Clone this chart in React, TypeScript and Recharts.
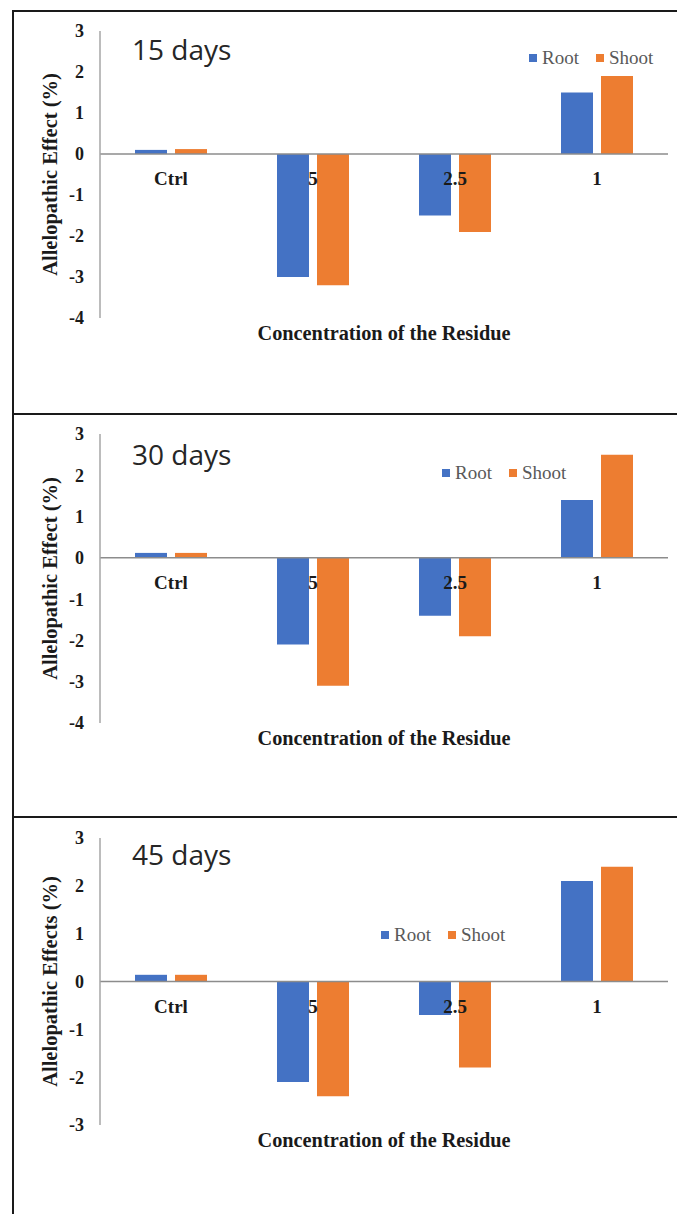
import { Bar, BarChart, ReferenceLine, XAxis, YAxis } from "recharts";

const categories = ["Ctrl", "5", "2.5", "1"];

const root15 = [0.1, -3.0, -1.5, 1.5];
const shoot15 = [0.12, -3.2, -1.9, 1.9];
const root30 = [0.12, -2.1, -1.4, 1.4];
const shoot30 = [0.12, -3.1, -1.9, 2.5];
const root45 = [0.14, -2.1, -0.7, 2.1];
const shoot45 = [0.14, -2.4, -1.8, 2.4];

const ticksLong = [-4, -3, -2, -1, 0, 1, 2, 3];
const ticksShort = [-3, -2, -1, 0, 1, 2, 3];

const series = [
  { key: "Root", color: "#4472C4" },
  { key: "Shoot", color: "#ED7D31" },
];
const SERIF = "'Liberation Serif', 'Times New Roman', serif";

function toRows(root: number[], shoot: number[]) {
  return categories.map((category, i) => ({ category, Root: root[i], Shoot: shoot[i] }));
}

// layout of each panel (page coordinates for top, the rest relative to the panel)
const panels = [
  {
    title: "15 days",
    yLabel: "Allelopathic Effect (%)",
    rows: toRows(root15, shoot15),
    ticks: ticksLong,
    top: 10,
    margin: { top: 21, bottom: 62 },
    titleTop: 25,
    legend: { left: 529, top: 38 },
  },
  {
    title: "30 days",
    yLabel: "Allelopathic Effect (%)",
    rows: toRows(root30, shoot30),
    ticks: ticksLong,
    top: 413,
    margin: { top: 21, bottom: 60 },
    titleTop: 27,
    legend: { left: 442, top: 50 },
  },
  {
    title: "45 days",
    yLabel: "Allelopathic Effects (%)",
    rows: toRows(root45, shoot45),
    ticks: ticksShort,
    top: 816,
    margin: { top: 22, bottom: 61 },
    titleTop: 24,
    legend: { left: 381, top: 109 },
  },
];

function LegendBox({ left, top }: { left: number; top: number }) {
  return (
    <div
      style={{
        position: "absolute",
        left,
        top,
        height: 20,
        display: "flex",
        alignItems: "center",
        fontFamily: SERIF,
        fontSize: 19,
        color: "#595959",
        whiteSpace: "nowrap",
      }}
    >
      {series.map((s, i) => (
        <div key={s.key} style={{ display: "flex", alignItems: "center", marginLeft: i ? 17 : 0 }}>
          <span style={{ width: 8, height: 8, background: s.color, marginRight: 5, display: "inline-block" }} />
          <span>{s.key}</span>
        </div>
      ))}
    </div>
  );
}

// category names sit just under the zero line
function CategoryLabels(props: any) {
  const vb = props.viewBox;
  if (!vb) return null;
  const step = vb.width / categories.length;
  return (
    <g>
      {categories.map((c, i) => (
        <text
          key={c}
          x={vb.x + step * (i + 0.5)}
          y={vb.y + 31}
          textAnchor="middle"
          fontFamily={SERIF}
          fontWeight="bold"
          fontSize={19}
          fill="#1a1a1a"
        >
          {c}
        </text>
      ))}
    </g>
  );
}

function Panel({ p }: { p: (typeof panels)[number] }) {
  const min = p.ticks[0];
  const max = p.ticks[p.ticks.length - 1];
  return (
    <div style={{ position: "absolute", left: 0, top: p.top, width: 677, height: 400 }}>
      <BarChart
        width={677}
        height={400}
        data={p.rows}
        margin={{ top: p.margin.top, right: 9, bottom: p.margin.bottom, left: 0 }}
        barSize={32}
        barGap={8}
      >
        <XAxis
          dataKey="category"
          tick={false}
          tickLine={false}
          axisLine={false}
          height={30}
          label={{
            value: "Concentration of the Residue",
            position: "insideBottom",
            offset: 8,
            style: { fontFamily: SERIF, fontWeight: "bold", fontSize: 20.3, fill: "#1a1a1a" },
          }}
        />
        <YAxis
          width={100}
          domain={[min, max]}
          ticks={p.ticks}
          interval={0}
          tickLine={false}
          tickMargin={10}
          axisLine={{ stroke: "#a6a6a6", strokeWidth: 1.5 }}
          tick={{ fontFamily: SERIF, fontWeight: "bold", fontSize: 18, fill: "#1a1a1a" }}
          label={{
            value: p.yLabel,
            angle: -90,
            position: "center",
            style: { fontFamily: SERIF, fontWeight: "bold", fontSize: 20.5, fill: "#1a1a1a" },
          }}
        />
        {series.map((s) => (
          <Bar key={s.key} dataKey={s.key} fill={s.color} isAnimationActive={false} />
        ))}
        <ReferenceLine y={0} stroke="#8c8c8c" strokeWidth={1.5} label={<CategoryLabels />} />
      </BarChart>
      <LegendBox left={p.legend.left} top={p.legend.top} />
      <div
        style={{
          position: "absolute",
          left: 132,
          top: p.titleTop,
          fontFamily: "'Open Sans', sans-serif",
          fontSize: 28,
          lineHeight: "28px",
          color: "#262626",
        }}
      >
        {p.title}
      </div>
    </div>
  );
}

export default function App() {
  return (
    <div
      style={{
        position: "absolute",
        left: 0,
        top: 0,
        width: 677,
        height: 1214,
        overflow: "hidden",
        background: "#fff",
      }}
    >
      {panels.map((p) => (
        <Panel key={p.title} p={p} />
      ))}
      {/* panel frames */}
      {panels.map((p) => (
        <div
          key={"h" + p.title}
          style={{ position: "absolute", left: 12, top: p.top, width: 680, height: 2, background: "#1a1a1a" }}
        />
      ))}
      <div style={{ position: "absolute", left: 12, top: 10, width: 2, height: 1210, background: "#1a1a1a" }} />
    </div>
  );
}
